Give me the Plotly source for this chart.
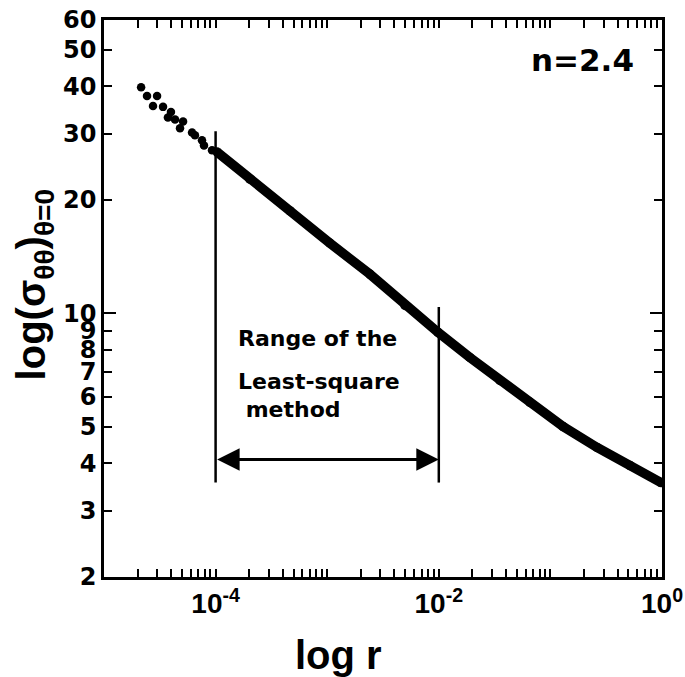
import numpy as np
import plotly.graph_objects as go

# ---- data ----
# sparse points at small r
r_sparse = [2.15e-5, 2.43e-5, 2.99e-5, 2.75e-5, 3.38e-5, 3.98e-5, 3.74e-5, 4.33e-5,
            5.11e-5, 4.80e-5, 6.15e-5, 6.53e-5, 7.55e-5, 7.87e-5, 9.29e-5]
s_sparse = [39.8, 37.7, 37.7, 35.5, 35.3, 34.2, 33.1, 32.7,
            32.3, 31.0, 30.2, 29.7, 28.8, 27.9, 27.1]
# dense band of points
r_dense = [1.03e-4, 2.03e-4, 4.65e-4, 1.06e-3, 2.42e-3, 4.98e-3, 9.84e-3,
           1.90e-2, 3.53e-2, 6.56e-2, 0.130, 0.262, 0.517, 0.98]
s_dense = [26.8, 22.7, 18.7, 15.35, 12.7, 10.5, 8.91,
           7.64, 6.64, 5.81, 5.01, 4.41, 3.95, 3.56]

# least-square range markers
range_r = [1e-4, 1e-2]
range_top = [30.4, 10.4]
range_bottom = 3.56
arrow_s = 4.10

# axis ticks
x_tickvals = [1e-5, 1e-4, 1e-3, 1e-2, 1e-1, 1e0]
x_ticktext = ["", "10<sup>-4</sup>", "", "10<sup>-2</sup>", "", "10<sup>0</sup>"]
y_tickvals = [2, 3, 4, 5, 6, 7, 8, 9, 10, 20, 30, 40, 50, 60]
y_ticktext = [str(v) for v in y_tickvals]
x_minor = [m * 10.0 ** e for e in range(-5, 0) for m in range(2, 10)]

fig = go.Figure()

fig.add_trace(go.Scatter(x=r_sparse, y=s_sparse, mode="markers",
                         marker=dict(color="black", size=8.5), hoverinfo="skip"))
fig.add_trace(go.Scatter(x=r_dense, y=s_dense, mode="lines+markers",
                         line=dict(color="black", width=9.5),
                         marker=dict(color="black", size=9.5), hoverinfo="skip"))

for r0, top in zip(range_r, range_top):
    fig.add_trace(go.Scatter(x=[r0, r0], y=[range_bottom, top], mode="lines",
                             line=dict(color="black", width=2.5), hoverinfo="skip"))

fig.add_annotation(x=np.log10(range_r[1]), y=np.log10(arrow_s),
                   ax=np.log10(range_r[0]), ay=np.log10(arrow_s),
                   xref="x", yref="y", axref="x", ayref="y", text="",
                   showarrow=True, arrowhead=2, startarrowhead=2, arrowside="end+start",
                   arrowwidth=3, arrowsize=1.5, startarrowsize=1.5, arrowcolor="black")

txt_font = dict(family="DejaVu Sans", size=22, color="black", weight="bold")
fig.add_annotation(x=0.237, y=0.428, xref="paper", yref="paper", text="Range of the",
                   showarrow=False, xanchor="left", yanchor="middle", font=txt_font)
fig.add_annotation(x=0.237, y=0.351, xref="paper", yref="paper", text="Least-square",
                   showarrow=False, xanchor="left", yanchor="middle", font=txt_font)
fig.add_annotation(x=0.237, y=0.301, xref="paper", yref="paper", text=" method",
                   showarrow=False, xanchor="left", yanchor="middle", font=txt_font)

fig.add_annotation(x=0.954, y=0.928, xref="paper", yref="paper", text="n=2.4",
                   showarrow=False, xanchor="right", yanchor="middle",
                   font=dict(family="DejaVu Sans", size=31, color="black", weight="bold"))

fig.add_annotation(x=0.421, y=-0.14, xref="paper", yref="paper", text="log r",
                   showarrow=False, xanchor="center", yanchor="middle",
                   font=dict(family="Liberation Sans", size=40, color="black", weight="bold"))
fig.add_annotation(x=-0.125, y=0.524, xref="paper", yref="paper",
                   text="log(σ<sub>θθ</sub>)<sub>θ=0</sub>", textangle=-90,
                   showarrow=False, xanchor="center", yanchor="middle",
                   font=dict(family="Liberation Sans", size=40, color="black", weight="bold"))

fig.update_layout(
    width=685, height=677,
    margin=dict(l=104, r=23, t=20, b=100, autoexpand=False),
    paper_bgcolor="white", plot_bgcolor="white",
    showlegend=False,
    xaxis=dict(type="log", range=[-5, 0], tickmode="array",
               tickvals=x_tickvals, ticktext=x_ticktext, automargin=False,
               ticks="inside", ticklen=8, tickwidth=2, tickcolor="black",
               minor=dict(tickmode="array", tickvals=x_minor, ticks="inside",
                          ticklen=4, tickwidth=1.5, tickcolor="black"),
               showline=True, linewidth=2.5, linecolor="black", mirror="allticks",
               showgrid=False, zeroline=False,
               tickfont=dict(family="Liberation Sans", size=28, color="black", weight="bold")),
    yaxis=dict(type="log", range=[np.log10(2), np.log10(60)], tickmode="array",
               tickvals=y_tickvals, ticktext=y_ticktext, automargin=False,
               ticks="inside", ticklen=8, tickwidth=2, tickcolor="black",
               showline=True, linewidth=2.5, linecolor="black", mirror="allticks",
               showgrid=False, zeroline=False,
               tickfont=dict(family="DejaVu Sans", size=24, color="black", weight="bold")),
    yaxis2=dict(type="log", range=[np.log10(2), np.log10(60)], overlaying="y",
                side="left", tickmode="array", tickvals=[10], ticks="inside",
                ticklen=12, tickwidth=2, tickcolor="black", showticklabels=False,
                automargin=False,
                showline=False, mirror="ticks", showgrid=False, zeroline=False),
)
fig.add_trace(go.Scatter(x=[], y=[], yaxis="y2", showlegend=False))

fig.write_html("out.html")
